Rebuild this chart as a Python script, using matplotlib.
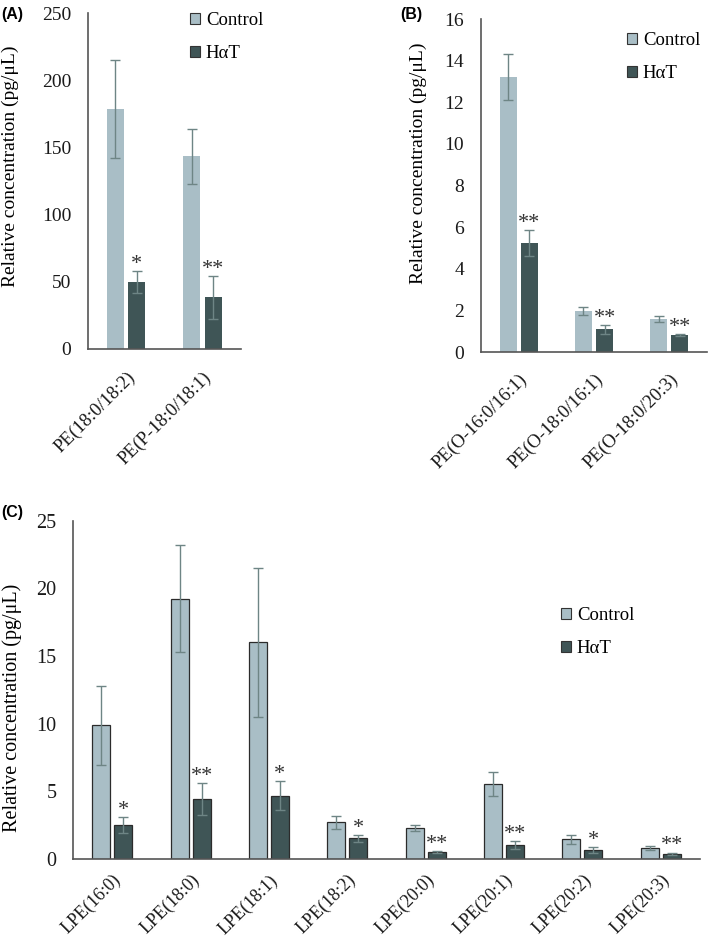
import numpy as np
import matplotlib
matplotlib.use("Agg")
import matplotlib.pyplot as plt
import matplotlib.transforms as mtransforms

# 색상 / 글꼴 설정
CTRL_COLOR = "#A9BEC6"
HAT_COLOR = "#3F5556"
ERR_COLOR = "#6E8585"
SERIF = "Liberation Serif"

plt.rcParams["font.family"] = SERIF

# (A) PE
a_labels = ["PE(18:0/18:2)", "PE(P-18:0/18:1)"]
a_ctrl = [179, 143.5]
a_ctrl_err = [36.5, 20.5]
a_hat = [50, 38.5]
a_hat_err = [8, 16]
a_sig = ["*", "**"]

# (B) ether PE
b_labels = ["PE(O-16:0/16:1)", "PE(O-18:0/16:1)", "PE(O-18:0/20:3)"]
b_ctrl = [13.22, 1.98, 1.6]
b_ctrl_err = [1.1, 0.2, 0.13]
b_hat = [5.25, 1.1, 0.82]
b_hat_err = [0.62, 0.2, 0.06]
b_sig = ["**", "**", "**"]

# (C) LPE
c_labels = ["LPE(16:0)", "LPE(18:0)", "LPE(18:1)", "LPE(18:2)",
            "LPE(20:0)", "LPE(20:1)", "LPE(20:2)", "LPE(20:3)"]
c_ctrl = [9.88, 19.22, 16.02, 2.7, 2.28, 5.52, 1.45, 0.81]
c_ctrl_err = [2.93, 3.95, 5.5, 0.49, 0.2, 0.9, 0.31, 0.12]
c_hat = [2.49, 4.43, 4.69, 1.52, 0.52, 1.03, 0.66, 0.37]
c_hat_err = [0.6, 1.2, 1.07, 0.26, 0.09, 0.28, 0.2, 0.1]
c_sig = ["*", "**", "*", "*", "**", "**", "*", "**"]

W, H = 709, 941
fig = plt.figure(figsize=(W / 100, H / 100), dpi=100)


def px_axes(left, top, right, bottom):
    # 픽셀 좌표로 axes 생성
    return fig.add_axes([left / W, 1 - bottom / H, (right - left) / W, (bottom - top) / H])


def draw_panel(ax, labels, ctrl, ctrl_err, hat, hat_err, sig, ymax, ystep,
               edge, width, off, xshift, xpad, leg_xy, ylab_xy, fs=14, xfs=13.5):
    x = np.arange(len(labels))
    ekw = dict(ecolor=ERR_COLOR, elinewidth=1.0, capsize=3.5, capthick=1.0)
    lw = 0.9 if edge else 0
    ax.bar(x - off, ctrl, width, color=CTRL_COLOR, edgecolor="#2b2b2b", linewidth=lw,
           yerr=ctrl_err, error_kw=ekw, label="Control")
    ax.bar(x + off, hat, width, color=HAT_COLOR, edgecolor="#2b2b2b", linewidth=lw,
           yerr=hat_err, error_kw=ekw, label="H\u03b1T")

    # 유의성 표시 (*, **)
    for xi, v, e, s in zip(x, hat, hat_err, sig):
        ax.annotate(s, (xi + off, v + e), xytext=(0, -2), textcoords="offset points",
                    ha="center", va="bottom", fontsize=16, color="#333333")

    ax.set_xlim(-0.5, len(labels) - 0.5)
    ax.set_ylim(0, ymax)
    ax.set_yticks(np.arange(0, ymax + ystep / 2, ystep))
    ax.set_xticks(x)
    ax.set_xticklabels(labels, rotation=45, ha="right", rotation_mode="anchor")
    shift = mtransforms.ScaledTranslation(xshift / 100, 0, fig.dpi_scale_trans)
    for t in ax.get_xticklabels():
        t.set_transform(t.get_transform() + shift)
    ax.tick_params(axis="both", length=0, labelsize=fs, colors="#1a1a1a")
    ax.tick_params(axis="x", labelsize=xfs, pad=xpad)
    ax.tick_params(axis="y", pad=12)
    for side in ["top", "right"]:
        ax.spines[side].set_visible(False)
    for side in ["left", "bottom"]:
        ax.spines[side].set_color("#555555")
        ax.spines[side].set_linewidth(1.2)

    ax.set_ylabel("Relative concentration (pg/\u03bcL)", fontsize=fs)
    ax.yaxis.set_label_coords(*ylab_xy)

    ax.legend(loc="upper left", bbox_to_anchor=(leg_xy[0] / W, 1 - leg_xy[1] / H),
              bbox_transform=fig.transFigure, frameon=False, borderpad=0,
              borderaxespad=0, handlelength=0.55, handleheight=0.55,
              handletextpad=0.3, labelspacing=0.85, fontsize=13.5)
    for p in ax.get_legend().get_patches():
        p.set_edgecolor("#333333")
        p.set_linewidth(0.8)


# (A)
ax_a = px_axes(88, 13.3, 240.7, 349)
draw_panel(ax_a, a_labels, a_ctrl, a_ctrl_err, a_hat, a_hat_err, a_sig, 250, 50,
           edge=False, width=0.22, off=0.14, xshift=6, xpad=14, leg_xy=(190, 12),
           ylab_xy=(-0.45, 0.545))

# (B)
ax_b = px_axes(481, 19, 707, 352.3)
draw_panel(ax_b, b_labels, b_ctrl, b_ctrl_err, b_hat, b_hat_err, b_sig, 16, 2,
           edge=False, width=0.225, off=0.14, xshift=4, xpad=13, leg_xy=(627, 32),
           ylab_xy=(-0.24, 0.568))

# (C)
ax_c = px_axes(73, 520.7, 700, 859)
draw_panel(ax_c, c_labels, c_ctrl, c_ctrl_err, c_hat, c_hat_err, c_sig, 25, 5,
           edge=True, width=0.23, off=0.14, xshift=8, xpad=9, leg_xy=(561, 607),
           ylab_xy=(-0.082, 0.446), fs=14.5, xfs=13)

# 패널 라벨
for lab, (px, py) in zip(["(A)", "(B)", "(C)"], [(1, 15), (400, 15), (1, 512)]):
    fig.text(px / W, 1 - py / H, lab, family="Liberation Sans", fontweight="bold",
             fontsize=11.5, ha="left", va="center")

fig.savefig("out.png", dpi=100)
